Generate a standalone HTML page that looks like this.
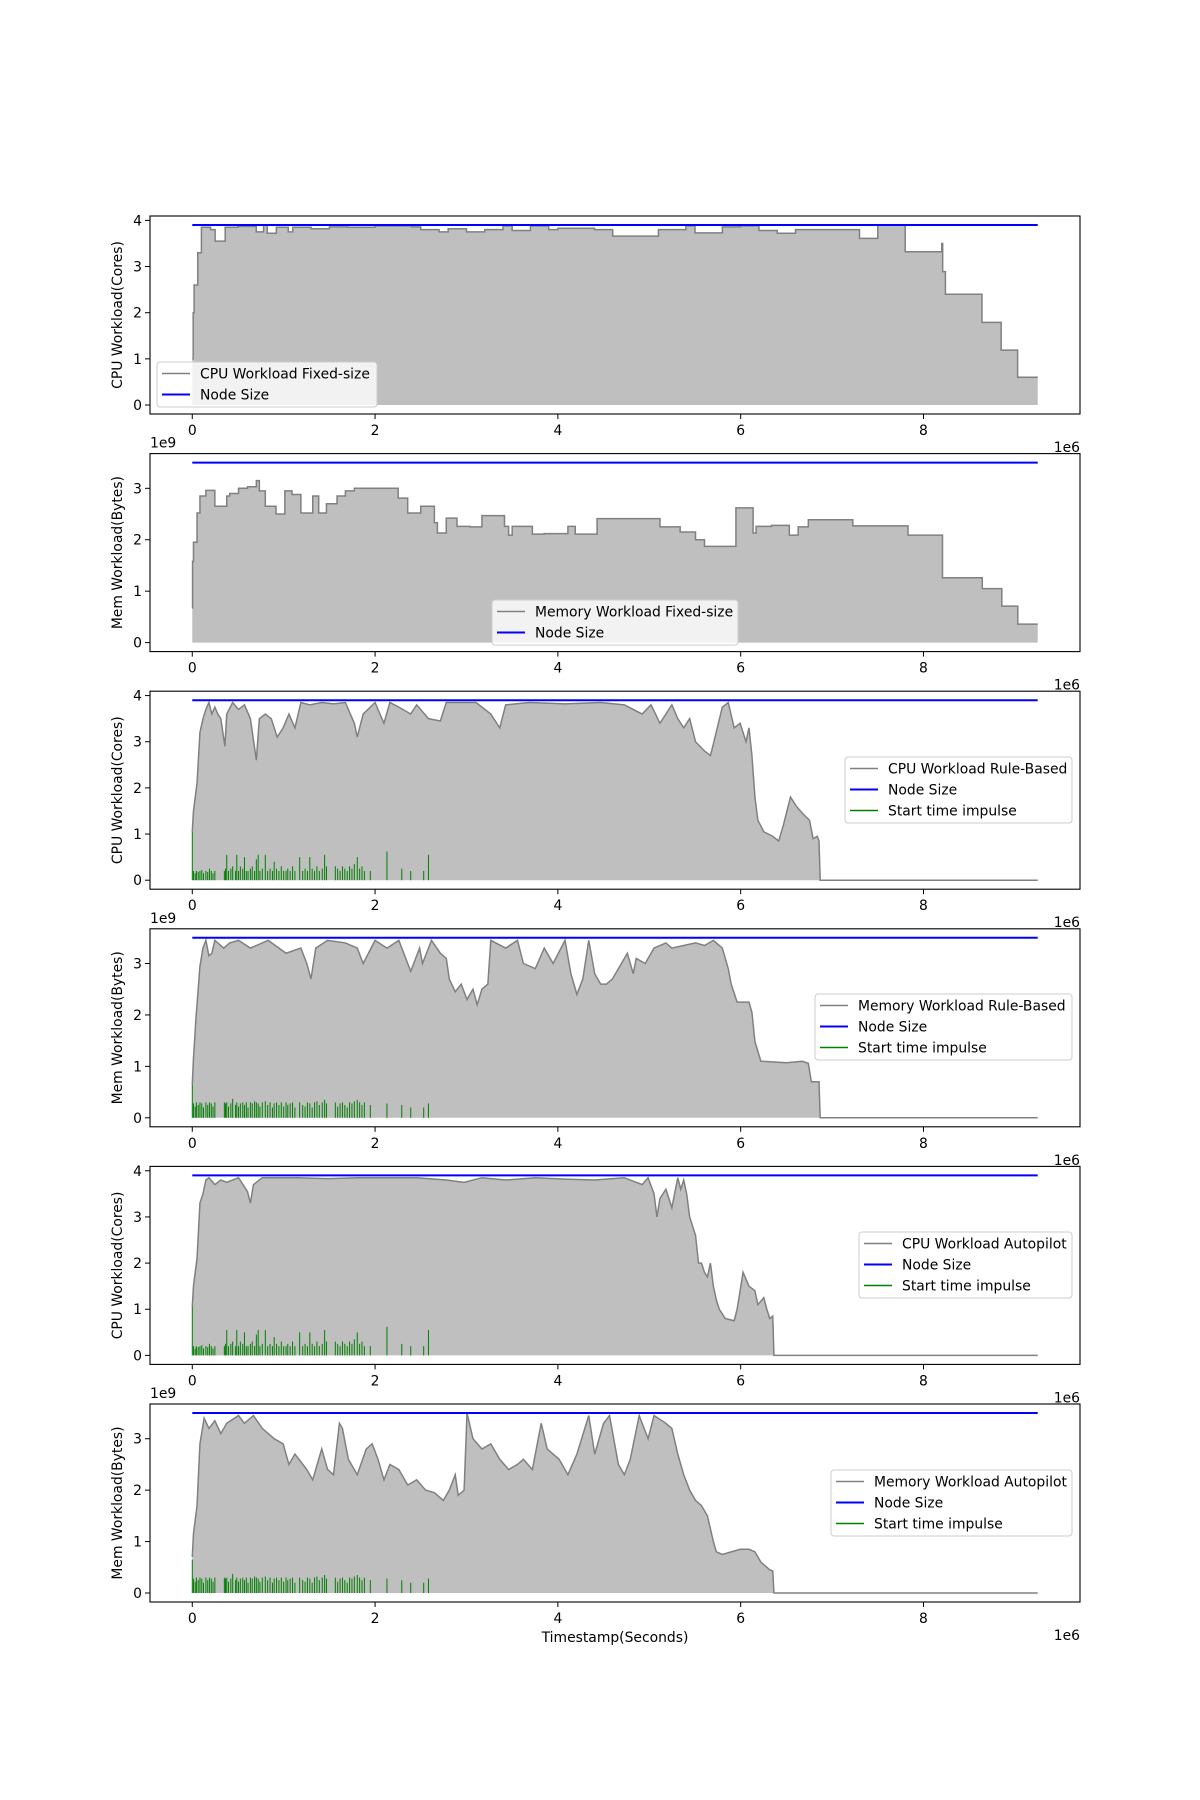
<!DOCTYPE html>
<html><head><meta charset="utf-8">
<style>
html,body{margin:0;padding:0;background:#fff;}
svg{display:block;font-family:"DejaVu Sans","Liberation Sans",sans-serif;}
</style></head>
<body>
<svg id="fig" width="1200" height="1800" viewBox="0 0 1200 1800" xmlns="http://www.w3.org/2000/svg">
<rect x="0" y="0" width="1200" height="1800" fill="#fff"/>
</svg>
<script>
// ---- data (times in 1e6 s; CPU in cores; memory in 1e9 bytes) ----
const xTicks = [0, 2, 4, 6, 8];
const cpuTicks = [0, 1, 2, 3, 4];
const memTicks = [0, 1, 2, 3];
const cpuNode = 3.9;
const memNode = 3.5;
const tEnd = 9.25;

const fixedCpuT = [0,0.01,0.02,0.06,0.1,0.2,0.25,0.36,0.5,0.7,0.78,0.82,0.92,1.05,1.1,1.3,1.5,1.7,2.0,2.4,2.5,2.7,2.8,3.0,3.2,3.4,3.5,3.7,3.9,4.0,4.4,4.6,5.1,5.4,5.5,5.8,6.0,6.2,6.4,6.6,7.3,7.5,7.8,8.2,8.21,8.24,8.64,8.85,9.03,9.25];
const fixedCpuV = [1,2,2.6,3.3,3.85,3.8,3.55,3.85,3.87,3.75,3.9,3.72,3.85,3.75,3.85,3.82,3.86,3.85,3.88,3.86,3.8,3.75,3.82,3.75,3.8,3.88,3.78,3.88,3.8,3.83,3.8,3.66,3.8,3.88,3.73,3.86,3.88,3.78,3.72,3.8,3.61,3.9,3.32,3.5,2.89,2.4,1.79,1.19,0.6,0.6];

const fixedMemT = [0,0.003,0.013,0.052,0.084,0.149,0.247,0.377,0.409,0.506,0.604,0.701,0.734,0.799,0.916,1.013,1.091,1.188,1.318,1.383,1.468,1.584,1.675,1.773,2.253,2.357,2.5,2.649,2.682,2.779,2.896,3.039,3.169,3.416,3.461,3.5,3.721,3.85,4.11,4.19,4.429,5.117,5.338,5.506,5.604,5.948,6.136,6.169,6.338,6.532,6.629,6.74,7.227,7.831,8.208,8.643,8.857,9.032,9.25];
const fixedMemV = [0.67,1.58,1.95,2.52,2.85,2.96,2.65,2.85,2.9,3.0,3.03,3.15,2.95,2.65,2.5,2.95,2.88,2.52,2.85,2.52,2.7,2.85,2.95,3.0,2.81,2.52,2.65,2.33,2.13,2.42,2.26,2.25,2.47,2.26,2.09,2.26,2.11,2.12,2.26,2.11,2.41,2.25,2.15,2.0,1.87,2.62,2.13,2.26,2.28,2.09,2.25,2.39,2.27,2.09,1.26,1.05,0.71,0.36,0.36];

const ruleCpuT = [0,0.013,0.052,0.084,0.117,0.149,0.182,0.214,0.247,0.279,0.312,0.357,0.377,0.442,0.506,0.571,0.636,0.701,0.734,0.799,0.864,0.929,0.994,1.058,1.123,1.188,1.286,1.416,1.545,1.675,1.773,1.805,1.87,2.0,2.097,2.162,2.26,2.39,2.455,2.584,2.714,2.779,3.104,3.266,3.364,3.429,3.688,4.078,4.468,4.727,4.922,5.019,5.117,5.247,5.312,5.377,5.442,5.506,5.604,5.669,5.701,5.799,5.864,5.929,5.994,6.058,6.091,6.123,6.156,6.188,6.253,6.351,6.416,6.468,6.545,6.61,6.675,6.753,6.792,6.838,6.857,6.87,9.25];
const ruleCpuV = [1.05,1.5,2.1,3.2,3.5,3.7,3.85,3.6,3.75,3.6,3.5,2.9,3.6,3.85,3.7,3.8,3.5,2.6,3.5,3.6,3.5,3.1,3.3,3.6,3.3,3.85,3.8,3.85,3.82,3.85,3.4,3.1,3.6,3.85,3.4,3.85,3.75,3.6,3.8,3.5,3.45,3.85,3.85,3.6,3.3,3.8,3.85,3.82,3.85,3.8,3.6,3.8,3.4,3.8,3.5,3.3,3.5,3.0,2.8,2.7,2.95,3.75,3.85,3.3,3.4,3.0,3.3,2.7,1.8,1.3,1.05,0.95,0.85,1.2,1.8,1.6,1.45,1.3,0.9,0.95,0.85,0,0];

const ruleMemT = [0,0.013,0.039,0.084,0.117,0.149,0.182,0.214,0.247,0.344,0.409,0.506,0.636,0.831,1.026,1.188,1.253,1.299,1.351,1.481,1.675,1.805,1.87,2.0,2.13,2.26,2.39,2.487,2.519,2.617,2.714,2.779,2.812,2.877,2.942,3.006,3.071,3.117,3.169,3.234,3.266,3.429,3.558,3.623,3.753,3.851,3.948,4.078,4.143,4.208,4.273,4.338,4.403,4.468,4.532,4.597,4.695,4.76,4.825,4.857,4.955,5.052,5.182,5.247,5.377,5.506,5.604,5.701,5.799,5.864,5.896,5.961,6.091,6.123,6.156,6.221,6.5,6.675,6.74,6.773,6.857,6.87,9.25];
const ruleMemV = [0.65,1.15,1.9,2.95,3.3,3.45,3.15,3.2,3.45,3.3,3.4,3.45,3.3,3.45,3.2,3.3,3.0,2.7,3.3,3.45,3.4,3.3,3.0,3.45,3.3,3.45,2.85,3.3,3.0,3.45,3.2,3.1,2.7,2.45,2.6,2.3,2.5,2.2,2.5,2.6,3.45,3.3,3.45,3.0,2.9,3.3,3.0,3.45,2.8,2.4,2.7,3.45,2.8,2.6,2.6,2.7,3.0,3.2,2.8,3.1,3.0,3.3,3.4,3.3,3.35,3.4,3.35,3.45,3.3,2.9,2.6,2.25,2.25,2.05,1.48,1.1,1.07,1.1,1.06,0.7,0.7,0,0];

const autoCpuT = [0,0.013,0.052,0.084,0.117,0.149,0.182,0.247,0.312,0.377,0.506,0.604,0.636,0.669,0.766,1.156,1.481,1.805,2.13,2.455,2.779,2.974,3.169,3.429,3.753,4.078,4.403,4.727,4.922,4.987,5.052,5.084,5.117,5.182,5.247,5.312,5.344,5.377,5.409,5.442,5.474,5.506,5.539,5.571,5.604,5.636,5.669,5.701,5.734,5.766,5.799,5.831,5.929,5.961,5.994,6.026,6.091,6.156,6.188,6.253,6.286,6.318,6.351,6.364,9.25];
const autoCpuV = [1.05,1.5,2.1,3.3,3.5,3.8,3.85,3.7,3.8,3.75,3.85,3.55,3.3,3.7,3.85,3.85,3.83,3.85,3.85,3.85,3.8,3.75,3.85,3.8,3.85,3.82,3.8,3.85,3.7,3.85,3.5,3.0,3.4,3.6,3.2,3.85,3.6,3.8,3.5,3.0,2.8,2.6,2.0,2.0,1.8,1.7,2.0,1.5,1.2,1.0,0.9,0.8,0.75,1.0,1.4,1.8,1.5,1.4,1.1,1.25,1.0,0.8,0.85,0,0];

const autoMemT = [0,0.013,0.052,0.084,0.13,0.182,0.247,0.312,0.377,0.506,0.571,0.669,0.766,0.896,0.994,1.058,1.123,1.253,1.318,1.416,1.481,1.545,1.61,1.643,1.708,1.805,1.903,1.968,2.032,2.097,2.162,2.26,2.357,2.455,2.552,2.649,2.747,2.812,2.877,2.909,2.974,3.006,3.071,3.169,3.266,3.364,3.461,3.558,3.623,3.721,3.818,3.883,4.013,4.11,4.208,4.338,4.403,4.5,4.565,4.662,4.727,4.792,4.89,4.987,5.052,5.182,5.247,5.312,5.377,5.442,5.506,5.571,5.636,5.701,5.734,5.799,5.896,5.994,6.091,6.156,6.221,6.318,6.351,6.364,9.25];
const autoMemV = [0.7,1.15,1.7,2.9,3.4,3.2,3.35,3.1,3.3,3.45,3.3,3.45,3.2,3.0,2.9,2.5,2.7,2.4,2.2,2.8,2.4,2.3,3.3,3.2,2.6,2.3,2.8,2.9,2.6,2.2,2.5,2.4,2.1,2.2,2.0,1.95,1.8,2.0,2.3,1.9,2.0,3.5,3.0,2.8,2.9,2.6,2.4,2.5,2.6,2.4,3.3,2.8,2.6,2.3,2.7,3.45,2.7,3.3,3.45,2.5,2.3,2.6,3.45,3.0,3.45,3.3,3.2,2.7,2.3,2.0,1.8,1.7,1.5,1.0,0.8,0.75,0.8,0.85,0.85,0.8,0.6,0.45,0.43,0,0];

const impulseT = [0,0.013,0.032,0.045,0.065,0.084,0.104,0.123,0.149,0.169,0.188,0.208,0.227,0.247,0.351,0.364,0.377,0.396,0.422,0.442,0.474,0.487,0.506,0.526,0.552,0.571,0.591,0.61,0.636,0.656,0.682,0.701,0.721,0.74,0.766,0.799,0.825,0.851,0.877,0.896,0.922,0.948,0.974,1.0,1.026,1.045,1.071,1.097,1.123,1.175,1.208,1.234,1.26,1.286,1.312,1.338,1.364,1.39,1.422,1.448,1.468,1.565,1.591,1.617,1.643,1.669,1.695,1.721,1.747,1.773,1.805,1.831,1.857,1.883,1.948,2.13,2.292,2.39,2.532,2.584];
const cpuImpulseV = [1.05,0.2,0.15,0.2,0.18,0.2,0.22,0.15,0.2,0.18,0.25,0.2,0.15,0.2,0.2,0.25,0.55,0.2,0.25,0.3,0.2,0.55,0.2,0.3,0.25,0.5,0.2,0.2,0.25,0.3,0.2,0.45,0.55,0.2,0.25,0.55,0.2,0.25,0.2,0.4,0.25,0.2,0.3,0.2,0.2,0.25,0.2,0.3,0.2,0.5,0.2,0.25,0.2,0.5,0.25,0.2,0.3,0.2,0.25,0.55,0.3,0.3,0.25,0.2,0.3,0.25,0.2,0.3,0.25,0.35,0.5,0.25,0.3,0.2,0.2,0.62,0.25,0.2,0.2,0.55];
const memImpulseV = [0.65,0.28,0.22,0.3,0.25,0.3,0.28,0.2,0.3,0.25,0.3,0.28,0.22,0.3,0.3,0.28,0.3,0.22,0.28,0.37,0.25,0.3,0.22,0.28,0.3,0.25,0.3,0.2,0.3,0.28,0.32,0.3,0.28,0.22,0.3,0.32,0.25,0.3,0.2,0.28,0.3,0.25,0.3,0.22,0.3,0.25,0.28,0.3,0.2,0.3,0.25,0.22,0.3,0.28,0.2,0.3,0.32,0.25,0.3,0.35,0.28,0.3,0.22,0.28,0.3,0.25,0.2,0.3,0.28,0.32,0.35,0.3,0.25,0.3,0.25,0.28,0.25,0.2,0.2,0.28];

// ---- layout ----
const SVGNS = "http://www.w3.org/2000/svg";
const fig = document.getElementById('fig');
const AX_L = 150, AX_W = 930, AX_H = 198, AX_TOP0 = 216, AX_STEP = 237.6;
const X_MIN = -0.4625, X_MAX = 9.7125;
function xs(t){ return AX_L + (t - X_MIN) / (X_MAX - X_MIN) * AX_W; }
function mk(tag, attrs, parent){
  const e = document.createElementNS(SVGNS, tag);
  for (const k in attrs) e.setAttribute(k, attrs[k]);
  (parent || fig).appendChild(e);
  return e;
}
function txt(str, x, y, anchor, parent){
  const e = mk('text', {x: x, y: y, 'font-size': 13.9, fill: '#000', 'text-anchor': anchor || 'start'}, parent);
  e.textContent = str;
  return e;
}

const panels = [
  {name:'cpu-fixed', T:fixedCpuT, V:fixedCpuV, step:true, mem:false, label:'CPU Workload Fixed-size', imp:null, legend:{x:157,y:362,w:220,rows:2}},
  {name:'mem-fixed', T:fixedMemT, V:fixedMemV, step:true, mem:true, label:'Memory Workload Fixed-size', imp:null, legend:{x:492,y:600,w:246,rows:2}},
  {name:'cpu-rule', T:ruleCpuT, V:ruleCpuV, step:false, mem:false, label:'CPU Workload Rule-Based', imp:cpuImpulseV, legend:{x:845,y:757,w:227,rows:3}},
  {name:'mem-rule', T:ruleMemT, V:ruleMemV, step:false, mem:true, label:'Memory Workload Rule-Based', imp:memImpulseV, legend:{x:815,y:994,w:257,rows:3}},
  {name:'cpu-autopilot', T:autoCpuT, V:autoCpuV, step:false, mem:false, label:'CPU Workload Autopilot', imp:cpuImpulseV, legend:{x:859,y:1232,w:213,rows:3}},
  {name:'mem-autopilot', T:autoMemT, V:autoMemV, step:false, mem:true, label:'Memory Workload Autopilot', imp:memImpulseV, legend:{x:831,y:1470,w:241,rows:3}}
];

panels.forEach((p, i) => {
  const top = AX_TOP0 + i * AX_STEP, bot = top + AX_H;
  const node = p.mem ? memNode : cpuNode;
  const yMin = -0.05 * node, yMax = node * 1.05;
  const ys = v => bot - (v - yMin) / (yMax - yMin) * AX_H;
  const g = mk('g', {});
  
  

  let pts = [];
  for (let k = 0; k < p.T.length; k++) {
    const x = xs(p.T[k]), y = ys(p.V[k]);
    if (p.step && k > 0) pts.push([x, ys(p.V[k-1])]);
    pts.push([x, y]);
  }
  const line = pts.map((q, k) => (k ? 'L' : 'M') + q[0].toFixed(2) + ' ' + q[1].toFixed(2)).join(' ');
  const y0 = ys(0);
  const area = line + ` L${xs(p.T[p.T.length-1]).toFixed(2)} ${y0} L${xs(p.T[0]).toFixed(2)} ${y0} Z`;
  const fill = mk('path', {d: area, fill: '#bfbfbf', stroke: 'none'}, g);
  
  
  const ln = mk('path', {d: line, fill: 'none', stroke: '#808080', 'stroke-width': 1.5}, g);
  
  

  if (p.imp) {
    const ig = mk('g', {stroke: '#008000', 'stroke-width': 1}, g);
    
    
    impulseT.forEach((t, k) => {
      const h = p.imp[k] !== undefined ? p.imp[k] : 0.2;
      const l = mk('line', {x1: xs(t), x2: xs(t), y1: y0, y2: ys(h)}, ig);
      
      
    });
  }

  const nl = mk('line', {x1: xs(0), x2: xs(tEnd), y1: ys(node), y2: ys(node), stroke: '#0000ff', 'stroke-width': 2}, g);
  
  

  const fr = mk('rect', {x: AX_L, y: top, width: AX_W, height: AX_H, fill: 'none', stroke: '#000', 'stroke-width': 1.1}, g);
  
  

  xTicks.forEach(t => {
    mk('line', {x1: xs(t), x2: xs(t), y1: bot, y2: bot + 5, stroke: '#000', 'stroke-width': 1}, g);
    const tl = txt(String(t), xs(t), bot + 21, 'middle', g);
    
    
  });
  const off = txt('1e6', 1080, bot + 38, 'end', g);
  
  

  (p.mem ? memTicks : cpuTicks).forEach(v => {
    mk('line', {x1: AX_L - 5, x2: AX_L, y1: ys(v), y2: ys(v), stroke: '#000', 'stroke-width': 1}, g);
    const tl = txt(String(v), AX_L - 8, ys(v) + 5, 'end', g);
    
    
  });
  if (p.mem) {
    const o = txt('1e9', AX_L, top - 6, 'start', g);
    
    
  }
  const yl = txt(p.mem ? 'Mem Workload(Bytes)' : 'CPU Workload(Cores)', 0, 0, 'middle', g);
  yl.setAttribute('transform', `translate(122 ${top + AX_H/2}) rotate(-90)`);
  
  

  const L = p.legend;
  const lg = mk('g', {}, g);
  
  
  mk('rect', {x: L.x, y: L.y, width: L.w, height: L.rows === 2 ? 45 : 66, rx: 3, fill: 'rgba(255,255,255,0.8)', stroke: '#cccccc', 'stroke-width': 1}, lg);
  const entries = [[p.label, '#808080', 1.5], ['Node Size', '#0000ff', 2], ['Start time impulse', '#008000', 1.5]].slice(0, L.rows);
  entries.forEach((e, k) => {
    const ry = L.y + 11.5 + k * 21;
    mk('line', {x1: L.x + 5, x2: L.x + 33, y1: ry, y2: ry, stroke: e[1], 'stroke-width': e[2]}, lg);
    const t = txt(e[0], L.x + 43, ry + 5, 'start', lg);
    
    
  });
});

const xt = txt('Timestamp(Seconds)', 615, 1642, 'middle');


</script>
</body></html>
